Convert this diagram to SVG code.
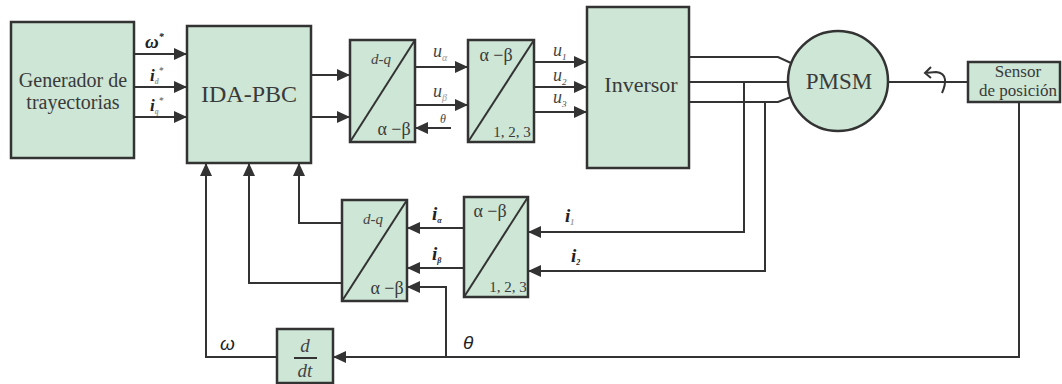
<svg xmlns="http://www.w3.org/2000/svg" width="1062" height="384" viewBox="0 0 1062 384">
<defs>
<style>
.blk{fill:#cde6d5;stroke:#333;stroke-width:2.5}
.ln{fill:none;stroke:#333;stroke-width:2}
.ar{fill:none;stroke:#333;stroke-width:2;marker-end:url(#ah)}
.t{font-family:'Liberation Serif','DejaVu Serif','Times New Roman',serif;fill:#3a3a3a}
.it{font-family:'Liberation Serif','DejaVu Serif','Times New Roman',serif;font-style:italic;fill:#444}
.bi{font-family:'Liberation Serif','DejaVu Serif','Times New Roman',serif;font-style:italic;font-weight:bold;fill:#222}
.sub{fill:#999}
.si{font-family:'Liberation Sans','DejaVu Sans',Arial,sans-serif;font-style:italic;fill:#222}
</style>
<marker id="ah" markerUnits="userSpaceOnUse" markerWidth="13" markerHeight="12" refX="13" refY="6" orient="auto">
<path d="M0,0 L13,6 L0,12 z" fill="#333"/>
</marker>
</defs>
<rect width="1062" height="384" fill="#fff"/>

<g id="gen">
<rect class="blk" x="11" y="22" width="123" height="136"/>
<text class="t" x="73" y="87" font-size="20" text-anchor="middle">Generador de</text>
<text class="t" x="73" y="109" font-size="20" text-anchor="middle">trayectorias</text>
</g>

<g id="idapbc">
<rect class="blk" x="187" y="26" width="124" height="137"/>
<text class="t" x="249" y="102" font-size="24" text-anchor="middle">IDA-PBC</text>
</g>

<g id="dq1">
<rect class="blk" x="350" y="40" width="65" height="102"/>
<line class="ln" x1="350" y1="142" x2="415" y2="40" stroke-width="2.5"/>
<text class="it" x="381" y="64" font-size="15" text-anchor="middle">d-q</text>
<text class="t" x="394" y="135" font-size="18" text-anchor="middle" fill="#555">α −β</text>
</g>

<g id="ab1">
<rect class="blk" x="468" y="40" width="66" height="102"/>
<line class="ln" x1="468" y1="142" x2="534" y2="40" stroke-width="2.5"/>
<text class="t" x="496" y="61" font-size="18" text-anchor="middle" fill="#555">α −β</text>
<text class="t" x="512" y="137" font-size="15" text-anchor="middle">1, 2, 3</text>
</g>

<g id="inversor">
<rect class="blk" x="587" y="7" width="102" height="161"/>
<text class="t" x="641" y="92" font-size="22" text-anchor="middle">Inversor</text>
</g>

<g id="pmsm">
<circle class="blk" cx="838" cy="81" r="50"/>
<text class="t" x="839" y="89" font-size="23" text-anchor="middle">PMSM</text>
</g>

<g id="sensor">
<rect class="blk" x="968" y="62" width="92" height="40"/>
<text class="t" x="1018" y="77" font-size="17" text-anchor="middle">Sensor</text>
<text class="t" x="1018" y="96" font-size="17" text-anchor="middle">de posición</text>
</g>

<g id="dq2">
<rect class="blk" x="342" y="200" width="65" height="101"/>
<line class="ln" x1="342" y1="301" x2="407" y2="200" stroke-width="2.5"/>
<text class="it" x="373" y="224" font-size="15" text-anchor="middle">d-q</text>
<text class="t" x="387" y="294" font-size="18" text-anchor="middle" fill="#555">α −β</text>
</g>

<g id="ab2">
<rect class="blk" x="464" y="197" width="64" height="100"/>
<line class="ln" x1="464" y1="297" x2="528" y2="197" stroke-width="2.5"/>
<text class="t" x="490" y="217" font-size="18" text-anchor="middle" fill="#555">α −β</text>
<text class="t" x="508" y="292" font-size="15" text-anchor="middle">1, 2, 3</text>
</g>

<g id="ddt">
<rect class="blk" x="277" y="329" width="56" height="54"/>
<text class="it" x="305" y="352" font-size="19" text-anchor="middle">d</text>
<line class="ln" x1="294" y1="358" x2="317" y2="358" stroke-width="1.2"/>
<text class="it" x="305" y="377" font-size="19" text-anchor="middle">dt</text>
</g>

<g id="connectors">
<line class="ar" x1="134" y1="54" x2="187" y2="54"/>
<line class="ar" x1="134" y1="87" x2="187" y2="87"/>
<line class="ar" x1="134" y1="117" x2="187" y2="117"/>
<line class="ar" x1="311" y1="75" x2="350" y2="75"/>
<line class="ar" x1="311" y1="117" x2="350" y2="117"/>
<line class="ar" x1="415" y1="67" x2="468" y2="67"/>
<line class="ar" x1="415" y1="105" x2="468" y2="105"/>
<line class="ar" x1="451" y1="128" x2="415" y2="128"/>
<line class="ar" x1="534" y1="62" x2="587" y2="62"/>
<line class="ar" x1="534" y1="87" x2="587" y2="87"/>
<line class="ar" x1="534" y1="112" x2="587" y2="112"/>
<path class="ln" d="M689,57 H778 L791,63"/>
<path class="ln" d="M689,82 H788"/>
<path class="ln" d="M689,102 H778 L791,97"/>
<path class="ar" d="M744,82 V232 H528"/>
<path class="ar" d="M765,102 V271 H528"/>
<line class="ar" x1="464" y1="228" x2="407" y2="228"/>
<line class="ar" x1="464" y1="268" x2="407" y2="268"/>
<path class="ar" d="M342,223 H299 V163"/>
<path class="ar" d="M342,283 H249 V163"/>
<line class="ln" x1="888" y1="82" x2="968" y2="82"/>
<path class="ln" d="M942,93 C946,84 948,73 936,72 L925,73 M931,67 L925,73 L931,78" stroke-width="1.8"/>
<path class="ar" d="M1019,102 V357 H333"/>
<path class="ar" d="M446,357 V287 H407"/>
<path class="ar" d="M277,357 H206 V163"/>
</g>

<g id="labels">
<text class="bi" x="145" y="48" font-size="19">ω<tspan font-size="10" dy="-8">*</tspan></text>
<text class="bi" x="150" y="81" font-size="17">i<tspan font-size="8" dy="3" class="sub">d</tspan><tspan font-size="9" dy="-11" fill="#666">*</tspan></text>
<text class="bi" x="150" y="111" font-size="17">i<tspan font-size="8" dy="3" class="sub">q</tspan><tspan font-size="9" dy="-11" fill="#666">*</tspan></text>
<text class="it" x="433" y="57" font-size="18">u<tspan font-size="10" dy="4" class="sub">α</tspan></text>
<text class="it" x="433" y="97" font-size="18">u<tspan font-size="10" dy="4" class="sub">β</tspan></text>
<text class="it" x="440" y="123" font-size="12" fill="#999">θ</text>
<text class="it" x="553" y="56" font-size="18">u<tspan font-size="9" dy="4">1</tspan></text>
<text class="it" x="553" y="81" font-size="18">u<tspan font-size="9" dy="4">2</tspan></text>
<text class="it" x="553" y="103" font-size="18">u<tspan font-size="9" dy="4">3</tspan></text>
<text class="bi" x="432" y="220" font-size="19">i<tspan font-size="8" dy="3">α</tspan></text>
<text class="bi" x="432" y="260" font-size="19">i<tspan font-size="8" dy="3">β</tspan></text>
<text class="bi" x="565" y="222" font-size="19">i<tspan font-size="8" dy="3" class="sub">1</tspan></text>
<text class="bi" x="571" y="262" font-size="19">i<tspan font-size="8" dy="3">2</tspan></text>
<text class="si" x="220" y="350" font-size="19">ω</text>
<text class="si" x="463" y="349" font-size="19">θ</text>
</g>
</svg>
